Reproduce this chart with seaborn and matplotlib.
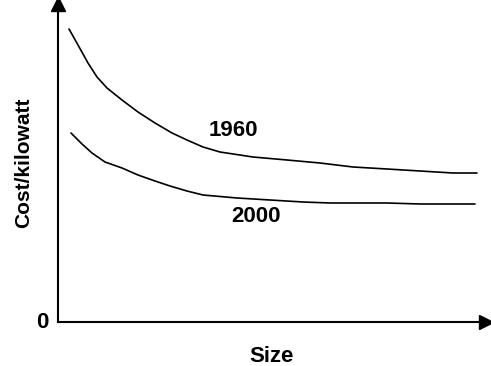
import matplotlib
matplotlib.use("Agg")
import matplotlib.pyplot as plt
import seaborn as sns
import pandas as pd

# Data (arbitrary units; size vs cost/kilowatt)
size_1960 = [11, 20, 30, 39, 49, 64, 80, 97, 114, 129, 145, 162, 195, 229, 262, 295, 329, 362, 395, 419]
cost_1960 = [293, 277, 259, 245, 234, 222, 210, 199, 189, 182, 175, 170, 165, 162, 159, 155, 153, 151, 149, 149]
size_2000 = [13, 24, 34, 47, 64, 80, 97, 112, 129, 145, 179, 212, 245, 272, 295, 329, 362, 417]
cost_2000 = [189, 178, 169, 160, 154, 147, 141, 136, 131, 127, 124, 122, 120, 119, 119, 119, 118, 118]
series_labels = ["1960", "2000"]

df = pd.concat([
    pd.DataFrame({"Size": size_1960, "Cost": cost_1960, "Year": series_labels[0]}),
    pd.DataFrame({"Size": size_2000, "Cost": cost_2000, "Year": series_labels[1]}),
])

sns.set_theme(style="white")
plt.rcParams["font.family"] = ["Liberation Sans", "DejaVu Sans"]
plt.rcParams["font.weight"] = "bold"

fig = plt.figure(figsize=(4.91, 3.66), dpi=100)
ax = fig.add_axes([58 / 491, 44 / 366, 428 / 491, 318 / 366])

sns.lineplot(data=df, x="Size", y="Cost", hue="Year", palette=["black", "black"],
             linewidth=1.2, legend=False, ax=ax, estimator=None, sort=False)

ax.set_xlim(0, 428)
ax.set_ylim(0, 318)
ax.set_xticks([])
ax.set_yticks([])
for s in ["top", "right"]:
    ax.spines[s].set_visible(False)
for s in ["left", "bottom"]:
    ax.spines[s].set_color("black")
    ax.spines[s].set_linewidth(1.5)

# arrow heads
ax.plot(1, 0, ">", color="black", markersize=10, transform=ax.transAxes, clip_on=False)
ax.plot(0, 1, "^", color="black", markersize=10, transform=ax.transAxes, clip_on=False)

ax.set_xlabel("Size", fontsize=16, fontweight="bold", color="black", labelpad=17)
ax.set_ylabel("Cost/kilowatt", fontsize=15, fontweight="bold", color="black", labelpad=18)

ax.text(-16, -1, "0", fontsize=16, fontweight="bold", ha="center", va="center", color="black")
ax.text(175, 192, series_labels[0], fontsize=16, fontweight="bold", ha="center", va="center", color="black")
ax.text(198, 106, series_labels[1], fontsize=16, fontweight="bold", ha="center", va="center", color="black")

fig.savefig("out.png", dpi=100)
